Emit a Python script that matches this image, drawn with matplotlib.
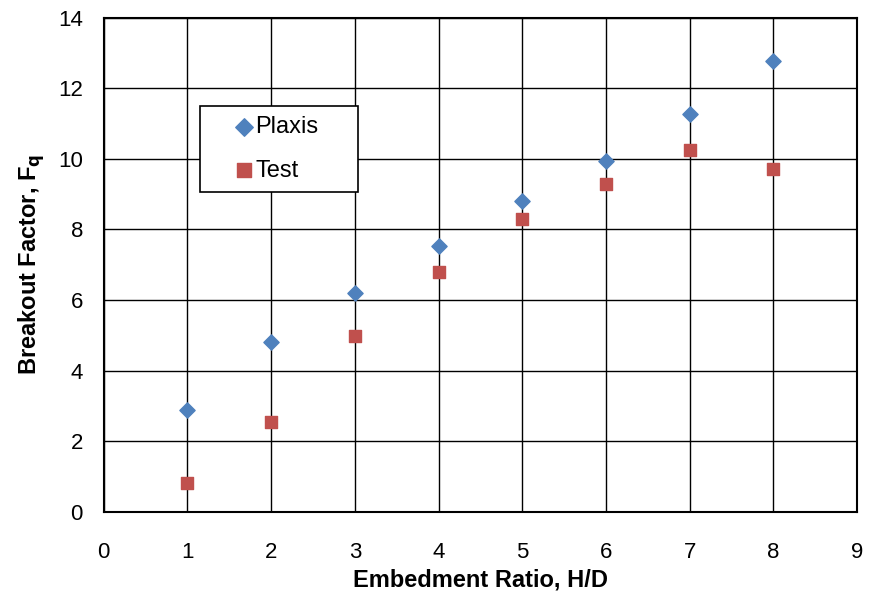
import matplotlib
matplotlib.use("Agg")
import matplotlib.pyplot as plt

plt.rcParams['font.family'] = ['Liberation Sans', 'DejaVu Sans']

ratio = [1, 2, 3, 4, 5, 6, 7, 8]
plaxis = [2.89, 4.82, 6.21, 7.54, 8.81, 9.95, 11.28, 12.78]
test = [0.82, 2.55, 4.99, 6.80, 8.30, 9.29, 10.26, 9.72]

fig = plt.figure(figsize=(8.72, 5.93), dpi=100)
ax = fig.add_axes([0.119, 0.137, 0.864, 0.833])

ax.scatter(ratio, plaxis, marker='D', s=60, color='#4f81bd', label='Plaxis', zorder=3)
ax.scatter(ratio, test, marker='s', s=75, color='#c0504d', label='Test', zorder=3)

ax.set_xlim(0, 9)
ax.set_ylim(0, 14)
ax.set_xticks(range(0, 10))
ax.set_yticks(range(0, 15, 2))
ax.grid(True, color='black', linewidth=1)
ax.tick_params(length=0, labelsize=16)
ax.tick_params(axis='x', pad=22)
ax.tick_params(axis='y', pad=15)
for s in ax.spines.values():
    s.set_linewidth(1.5)

ax.set_xlabel('Embedment Ratio, H/D', fontsize=17, fontweight='bold', labelpad=4)
ax.set_ylabel('Breakout Factor, F$_\\mathbf{q}$', fontsize=17, fontweight='bold', labelpad=8)

leg = ax.legend(loc='upper left', bbox_to_anchor=(0.1275, 0.5, 0.21, 0.322), mode='expand',
                borderaxespad=0, fontsize=17, scatterpoints=1, markerscale=1.15,
                frameon=True, fancybox=False, edgecolor='black', framealpha=1,
                handletextpad=-0.9, borderpad=0.45, labelspacing=0.9, handlelength=2.8)
leg.get_frame().set_linewidth(1.2)

fig.savefig('out.png', dpi=100)
